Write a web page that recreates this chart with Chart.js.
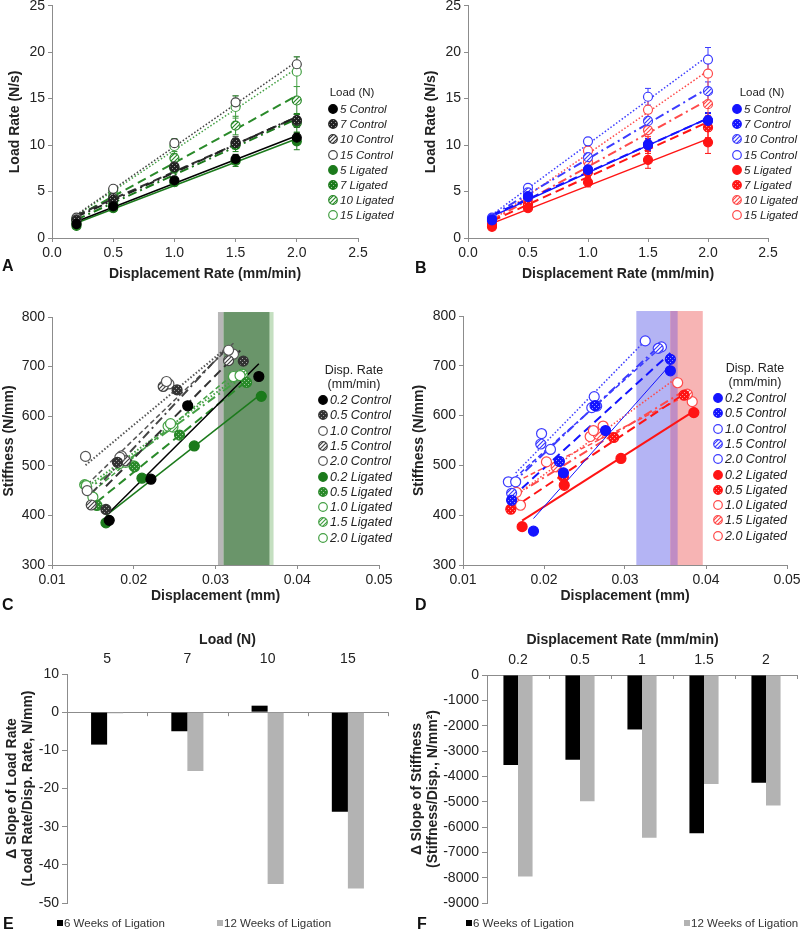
<!DOCTYPE html>
<html>
<head>
<meta charset="utf-8">
<script src="https://cdn.jsdelivr.net/npm/chart.js@4.4.1/dist/chart.umd.min.js"></script>
<style>
  body { margin: 0; background: #fff; font-family: 'Liberation Sans', Arial, sans-serif; }
  #wrap { position: relative; width: 800px; height: 932px; overflow: hidden; }
  #wrap canvas.panel { position: absolute; }
  .letter { position: absolute; font-weight: bold; font-size: 16px; line-height: 16px; color: #111; }
  .lgt { position: absolute; width: 120px; text-align: center; height: 18px; line-height: 18px; color: #222; }
  .lgr { position: absolute; height: 18px; line-height: 18px; display: flex; align-items: center; font-style: italic; color: #222; white-space: nowrap; }
  .lgr canvas { margin-right: 1px; }
  .blg { position: absolute; height: 16px; line-height: 16px; display: flex; align-items: center; font-size: 11.5px; color: #333; white-space: nowrap; }
  .blg i { display: inline-block; width: 6px; height: 6px; margin-right: 1px; }
</style>
</head>
<body>
<div id="wrap">
  <canvas class="panel" id="cA" width="400" height="300" style="left:0;top:0"></canvas>
  <canvas class="panel" id="cB" width="400" height="300" style="left:400px;top:0"></canvas>
  <canvas class="panel" id="cC" width="400" height="305" style="left:0;top:300px"></canvas>
  <canvas class="panel" id="cD" width="400" height="305" style="left:400px;top:300px"></canvas>
  <canvas class="panel" id="cE" width="400" height="327" style="left:0;top:605px"></canvas>
  <canvas class="panel" id="cF" width="400" height="327" style="left:400px;top:605px"></canvas>
  <div class="letter" style="left:2px;top:258px">A</div>
  <div class="letter" style="left:415px;top:260px">B</div>
  <div class="letter" style="left:2px;top:597px">C</div>
  <div class="letter" style="left:415px;top:597px">D</div>
  <div class="letter" style="left:3px;top:916px">E</div>
  <div class="letter" style="left:417px;top:916px">F</div>
</div>
<script>
// ---- data ----
const rates = [0.2, 0.5, 1.0, 1.5, 2.0];

// A: load rate (N/s), 6 weeks
const a5Control = [1.5, 3.4, 6.2, 8.5, 10.8];
const a7Control = [1.9, 4.1, 7.6, 10.2, 12.7];
const a10Control = [2.0, 4.3, 7.7, 10.3, 12.6];
const a15Control = [2.2, 5.3, 10.2, 14.6, 18.7];
const a5Ligated = [1.3, 3.2, 6.0, 8.3, 10.4];
const a7Ligated = [1.6, 3.7, 7.5, 10.0, 12.4];
const a10Ligated = [1.9, 4.5, 8.6, 12.1, 14.8];
const a15Ligated = [2.1, 5.1, 9.9, 14.1, 17.9];
const aErr5Control = [0.1, 0.2, 0.3, 0.5, 0.5];
const aErr7Control = [0.1, 0.2, 0.4, 0.5, 0.6];
const aErr10Control = [0.1, 0.3, 0.4, 0.6, 0.7];
const aErr15Control = [0.2, 0.3, 0.4, 0.7, 0.8];
const aErr5Ligated = [0.2, 0.3, 0.4, 0.6, 0.9];
const aErr7Ligated = [0.2, 0.3, 0.5, 0.7, 1.0];
const aErr10Ligated = [0.2, 0.4, 0.7, 1.0, 1.5];
const aErr15Ligated = [0.3, 0.4, 0.8, 1.2, 1.6];

// B: load rate (N/s), 12 weeks
const b5Control = [1.9, 4.4, 7.3, 10.0, 12.7];
const b7Control = [2.0, 4.5, 7.4, 10.1, 12.6];
const b10Control = [2.1, 4.9, 8.7, 12.6, 15.8];
const b15Control = [2.2, 5.4, 10.4, 15.2, 19.2];
const b5Ligated = [1.2, 3.2, 6.0, 8.4, 10.3];
const b7Ligated = [1.4, 3.6, 7.1, 10.0, 11.9];
const b10Ligated = [1.6, 4.0, 8.2, 11.6, 14.4];
const b15Ligated = [1.8, 4.4, 9.4, 13.8, 17.7];
const bErr5Control = [0.1, 0.2, 0.4, 0.6, 0.8];
const bErr7Control = [0.1, 0.2, 0.4, 0.6, 0.8];
const bErr10Control = [0.2, 0.3, 0.5, 0.8, 1.0];
const bErr15Control = [0.2, 0.3, 0.4, 0.9, 1.3];
const bErr5Ligated = [0.2, 0.3, 0.5, 0.9, 1.2];
const bErr7Ligated = [0.2, 0.3, 0.5, 0.9, 1.1];
const bErr10Ligated = [0.2, 0.3, 0.6, 1.0, 1.2];
const bErr15Ligated = [0.2, 0.4, 0.6, 1.0, 1.6];

// C: [displacement (mm), stiffness (N/mm)], 6 weeks
const c02Control = [[0.0170, 390], [0.0221, 473], [0.0266, 621], [0.0353, 680]];
const c05Control = [[0.0166, 412], [0.0180, 507], [0.0253, 653], [0.0334, 711]];
const c10Control = [[0.0141, 519], [0.0183, 517], [0.0240, 670], [0.0316, 733]];
const c15Control = [[0.0148, 421], [0.0190, 510], [0.0236, 660], [0.0316, 712]];
const c20Control = [[0.0143, 450], [0.0185, 520], [0.0243, 665], [0.0322, 725]];
const c02Ligated = [[0.0166, 385], [0.0210, 475], [0.0274, 540], [0.0356, 640]];
const c05Ligated = [[0.0155, 420], [0.0201, 498], [0.0256, 562], [0.0338, 668]];
const c10Ligated = [[0.0142, 460], [0.0190, 507], [0.0245, 585], [0.0330, 682]];
const c15Ligated = [[0.0140, 462], [0.0200, 500], [0.0248, 578], [0.0333, 685]];
const c20Ligated = [[0.0150, 437], [0.0183, 505], [0.0242, 580], [0.0322, 680]];
const cControlBand = [0.0303, 0.0366];
const cLigatedBand = [0.0310, 0.0371];

// D: [displacement (mm), stiffness (N/mm)], 12 weeks
const d02Control = [[0.0187, 368], [0.0224, 485], [0.0276, 570], [0.0356, 690]];
const d05Control = [[0.0160, 430], [0.0219, 508], [0.0263, 620], [0.0356, 713]];
const d10Control = [[0.0165, 467], [0.0197, 564], [0.0262, 638], [0.0325, 750]];
const d15Control = [[0.0160, 444], [0.0196, 543], [0.0265, 619], [0.0341, 735]];
const d20Control = [[0.0156, 467], [0.0208, 532], [0.0259, 616], [0.0345, 738]];
const d02Ligated = [[0.0173, 377], [0.0225, 460], [0.0295, 514], [0.0385, 606]];
const d05Ligated = [[0.0159, 412], [0.0224, 477], [0.0286, 556], [0.0373, 641]];
const d10Ligated = [[0.0171, 420], [0.0203, 507], [0.0261, 570], [0.0365, 666]];
const d15Ligated = [[0.0164, 425], [0.0215, 497], [0.0267, 562], [0.0377, 643]];
const d20Ligated = [[0.0166, 446], [0.0257, 558], [0.0273, 579], [0.0383, 628]];
const dControlBand = [0.0314, 0.0365];
const dLigatedBand = [0.0356, 0.0396];

// E, F: change in slope
const loadLabels = ['5', '7', '10', '15'];
const e6Weeks = [-8.5, -5.0, 1.7, -26.1];
const e12Weeks = [-0.3, -15.4, -45.0, -46.2];
const rateLabels = ['0.2', '0.5', '1', '1.5', '2'];
const f6Weeks = [-3550, -3350, -2150, -6250, -4250];
const f12Weeks = [-7950, -4980, -6420, -4300, -5150];

// ---- styling helpers ----
const AXIS = '#8c8c8c';
const TXT = '#222';
const FONT = "'Liberation Sans', Arial, sans-serif";
Chart.defaults.font.family = FONT;
Chart.defaults.color = TXT;

const SOLID = [], LONG = [9, 5], DASHDOT = [9, 4, 2, 4], DOT = [1.5, 2], SHORT = [5, 3];
const GREEN = '#1b7a1b', GREEN2 = '#2a8a2a', GREEN3 = '#44a044';
const BLUE = '#1414ff', BLUE2 = '#3c3cff';
const RED = '#ff1414', RED2 = '#ff4a4a';

function makePattern(color, kind) {
  const c = document.createElement('canvas');
  c.width = 4; c.height = 4;
  const g = c.getContext('2d');
  if (kind === 'dots') {
    g.fillStyle = color; g.fillRect(0, 0, 4, 4);
    g.fillStyle = 'rgba(255,255,255,0.55)';
    g.fillRect(0, 0, 1, 1); g.fillRect(2, 2, 1, 1);
  } else {
    g.fillStyle = '#fff'; g.fillRect(0, 0, 4, 4);
    g.strokeStyle = color; g.lineWidth = 1.2;
    g.beginPath();
    g.moveTo(0, 4); g.lineTo(4, 0);
    g.moveTo(-1, 1); g.lineTo(1, -1);
    g.moveTo(3, 5); g.lineTo(5, 3);
    g.stroke();
  }
  return g.createPattern(c, 'repeat');
}
function markerFill(color, fill) {
  if (fill === 'solid') return color;
  if (fill === 'open') return '#fff';
  return makePattern(color, fill);
}

// least-squares trend line over the range of the points
function trend(pts) {
  const n = pts.length;
  const mx = pts.reduce((s, p) => s + p[0], 0) / n;
  const my = pts.reduce((s, p) => s + p[1], 0) / n;
  let sxy = 0, sxx = 0;
  pts.forEach(p => { sxy += (p[0] - mx) * (p[1] - my); sxx += (p[0] - mx) ** 2; });
  const b = sxy / sxx, a = my - b * mx;
  const x0 = Math.min(...pts.map(p => p[0])), x1 = Math.max(...pts.map(p => p[0]));
  return [{ x: x0, y: a + b * x0 }, { x: x1, y: a + b * x1 }];
}

function seriesSets(s) {
  return [{
    data: trend(s.pts), showLine: true, borderColor: s.line || s.color, borderWidth: s.w,
    borderDash: s.dash, pointRadius: 0, fill: false, order: 2
  }, {
    data: s.pts.map(p => ({ x: p[0], y: p[1] })), showLine: false, pointRadius: s.r,
    pointBackgroundColor: markerFill(s.color, s.fill), pointBorderColor: s.color,
    pointBorderWidth: 1.2, errs: s.err, order: 1
  }];
}

const errorBars = {
  id: 'errorBars',
  beforeDatasetsDraw(chart) {
    const y = chart.scales.y, ctx = chart.ctx;
    chart.data.datasets.forEach((ds, i) => {
      if (!ds.errs) return;
      const meta = chart.getDatasetMeta(i);
      ctx.save();
      ctx.strokeStyle = ds.pointBorderColor;
      ctx.lineWidth = 1;
      meta.data.forEach((pt, j) => {
        const v = ds.data[j].y, e = ds.errs[j];
        const y0 = y.getPixelForValue(v - e), y1 = y.getPixelForValue(v + e);
        ctx.beginPath();
        ctx.moveTo(pt.x, y0); ctx.lineTo(pt.x, y1);
        ctx.moveTo(pt.x - 3, y0); ctx.lineTo(pt.x + 3, y0);
        ctx.moveTo(pt.x - 3, y1); ctx.lineTo(pt.x + 3, y1);
        ctx.stroke();
      });
      ctx.restore();
    });
  }
};

function bandsPlugin(s1, s2, colors, topValue) {
  return {
    id: 'bands',
    beforeDatasetsDraw(chart) {
      const { x, y } = chart.scales, ctx = chart.ctx;
      const top = y.getPixelForValue(topValue), bot = chart.chartArea.bottom;
      const rect = (a, b, col) => {
        const l = x.getPixelForValue(a), r = x.getPixelForValue(b);
        ctx.fillStyle = col; ctx.fillRect(l, top, r - l, bot - top);
      };
      ctx.save();
      rect(s1[0], s1[1], colors[0]);
      rect(s2[0], s2[1], colors[1]);
      const lo = Math.max(s1[0], s2[0]), hi = Math.min(s1[1], s2[1]);
      if (hi > lo) rect(lo, hi, colors[2]);
      ctx.restore();
    }
  };
}

function axis(pos, o, fit) {
  return {
    type: 'linear', position: pos, min: o.min, max: o.max,
    border: { display: true, color: AXIS, width: 1 },
    grid: { display: true, drawOnChartArea: false, drawTicks: true, tickLength: 4, color: AXIS },
    ticks: { stepSize: o.step, callback: o.fmt, font: { size: 14 }, color: TXT, padding: 3, autoSkip: false, maxRotation: 0 },
    title: { display: true, text: o.title, font: { size: 14, weight: 'bold' }, color: TXT, padding: o.pad },
    afterFit: fit
  };
}

function scatterChart(id, area, xo, yo, series, extra) {
  const cv = document.getElementById(id);
  const W = cv.width, H = cv.height;
  const sets = [];
  series.forEach(s => sets.push(...seriesSets(s)));
  return new Chart(cv, {
    type: 'scatter',
    data: { datasets: sets },
    options: {
      responsive: false, animation: false,
      layout: { padding: { left: 0, top: area.t, right: W - area.r, bottom: 0 } },
      plugins: { legend: { display: false }, tooltip: { enabled: false } },
      scales: {
        x: axis('bottom', xo, s => { s.height = H - area.b; s.paddingLeft = 0; s.paddingRight = 0; }),
        y: axis('left', yo, s => { s.width = area.l; s.paddingTop = 0; s.paddingBottom = 0; })
      }
    },
    plugins: extra
  });
}

function drawMarker(c, color, fill) {
  const g = c.getContext('2d');
  g.beginPath(); g.arc(6, 6, 4.3, 0, Math.PI * 2);
  g.fillStyle = markerFill(color, fill); g.fill();
  g.lineWidth = 1.2; g.strokeStyle = color; g.stroke();
}

function buildLegend(titles, series, mx, y0, step, size) {
  const wrap = document.getElementById('wrap');
  titles.forEach(t => {
    const d = document.createElement('div');
    d.className = 'lgt'; d.textContent = t.text;
    d.style.cssText = `left:${t.x - 60}px;top:${t.y - 9}px;font-size:${size}px`;
    wrap.appendChild(d);
  });
  series.forEach((s, i) => {
    const row = document.createElement('div');
    row.className = 'lgr';
    row.style.cssText = `left:${mx - 6}px;top:${y0 + i * step - 9}px;font-size:${size}px`;
    const c = document.createElement('canvas'); c.width = 12; c.height = 12;
    drawMarker(c, s.color, s.fill);
    const t = document.createElement('span'); t.textContent = s.label;
    row.append(c, t);
    wrap.appendChild(row);
  });
}

// ---- panels A, B ----
const pts = ys => rates.map((r, i) => [r, ys[i]]);
const aSeries = [
  { label: '5 Control', pts: pts(a5Control), err: aErr5Control, color: '#000', fill: 'solid', dash: SOLID, w: 1.5 },
  { label: '7 Control', pts: pts(a7Control), err: aErr7Control, color: '#222', fill: 'dots', dash: DASHDOT, w: 2 },
  { label: '10 Control', pts: pts(a10Control), err: aErr10Control, color: '#333', fill: 'hatch', dash: LONG, w: 2 },
  { label: '15 Control', pts: pts(a15Control), err: aErr15Control, color: '#444', fill: 'open', dash: DOT, w: 1.5 },
  { label: '5 Ligated', pts: pts(a5Ligated), err: aErr5Ligated, color: GREEN, fill: 'solid', dash: SOLID, w: 1.5 },
  { label: '7 Ligated', pts: pts(a7Ligated), err: aErr7Ligated, color: GREEN, fill: 'dots', dash: DASHDOT, w: 2 },
  { label: '10 Ligated', pts: pts(a10Ligated), err: aErr10Ligated, color: GREEN2, fill: 'hatch', dash: LONG, w: 2 },
  { label: '15 Ligated', pts: pts(a15Ligated), err: aErr15Ligated, color: GREEN3, fill: 'open', dash: DOT, w: 1.5 }
].map(s => Object.assign(s, { r: 4.5 }));

const bSeries = [
  { label: '5 Control', pts: pts(b5Control), err: bErr5Control, color: BLUE, fill: 'solid', dash: SOLID, w: 1.5 },
  { label: '7 Control', pts: pts(b7Control), err: bErr7Control, color: BLUE, fill: 'dots', dash: LONG, w: 2 },
  { label: '10 Control', pts: pts(b10Control), err: bErr10Control, color: BLUE2, fill: 'hatch', dash: DASHDOT, w: 2 },
  { label: '15 Control', pts: pts(b15Control), err: bErr15Control, color: BLUE2, fill: 'open', dash: DOT, w: 1.5 },
  { label: '5 Ligated', pts: pts(b5Ligated), err: bErr5Ligated, color: RED, fill: 'solid', dash: SOLID, w: 1.5 },
  { label: '7 Ligated', pts: pts(b7Ligated), err: bErr7Ligated, color: RED, fill: 'dots', dash: LONG, w: 2 },
  { label: '10 Ligated', pts: pts(b10Ligated), err: bErr10Ligated, color: RED2, fill: 'hatch', dash: DASHDOT, w: 2 },
  { label: '15 Ligated', pts: pts(b15Ligated), err: bErr15Ligated, color: RED2, fill: 'open', dash: DOT, w: 1.5 }
].map(s => Object.assign(s, { r: 4.5 }));

const rateX = { min: 0, max: 2.5, step: 0.5, fmt: v => v.toFixed(1), title: 'Displacement Rate (mm/min)', pad: { top: 0, bottom: 17 } };
scatterChart('cA', { l: 52, t: 5, r: 358, b: 238 }, rateX,
  { min: 0, max: 25, step: 5, fmt: v => String(v), title: 'Load Rate (N/s)', pad: { top: 7, bottom: 0 } },
  aSeries, [errorBars]);
scatterChart('cB', { l: 68, t: 5, r: 368, b: 238 }, rateX,
  { min: 0, max: 25, step: 5, fmt: v => String(v), title: 'Load Rate (N/s)', pad: { top: 23, bottom: 0 } },
  bSeries, [errorBars]);

// ---- panels C, D ----
const cSeries = [
  { label: '0.2 Control', pts: c02Control, color: '#000', fill: 'solid', dash: SOLID, w: 1.5 },
  { label: '0.5 Control', pts: c05Control, color: '#333', fill: 'dots', dash: LONG, w: 2 },
  { label: '1.0 Control', pts: c10Control, color: '#555', fill: 'open', dash: DOT, w: 2 },
  { label: '1.5 Control', pts: c15Control, color: '#444', fill: 'hatch', dash: DASHDOT, w: 2 },
  { label: '2.0 Control', pts: c20Control, color: '#555', fill: 'open', dash: SHORT, w: 1.5 },
  { label: '0.2 Ligated', pts: c02Ligated, color: GREEN, fill: 'solid', dash: SOLID, w: 1.5 },
  { label: '0.5 Ligated', pts: c05Ligated, color: GREEN2, fill: 'dots', dash: LONG, w: 2 },
  { label: '1.0 Ligated', pts: c10Ligated, color: GREEN3, fill: 'open', dash: DOT, w: 2 },
  { label: '1.5 Ligated', pts: c15Ligated, color: GREEN3, fill: 'hatch', dash: DASHDOT, w: 2 },
  { label: '2.0 Ligated', pts: c20Ligated, color: GREEN3, fill: 'open', dash: SHORT, w: 1.5 }
].map(s => Object.assign(s, { r: 5 }));

const dSeries = [
  { label: '0.2 Control', pts: d02Control, color: BLUE, fill: 'solid', dash: SOLID, w: 1 },
  { label: '0.5 Control', pts: d05Control, color: BLUE, fill: 'dots', dash: LONG, w: 2 },
  { label: '1.0 Control', pts: d10Control, color: BLUE2, fill: 'open', dash: DOT, w: 1.5 },
  { label: '1.5 Control', pts: d15Control, color: BLUE2, fill: 'hatch', dash: DASHDOT, w: 2 },
  { label: '2.0 Control', pts: d20Control, color: BLUE2, fill: 'open', dash: SHORT, w: 1.5 },
  { label: '0.2 Ligated', pts: d02Ligated, color: RED, fill: 'solid', dash: SOLID, w: 2 },
  { label: '0.5 Ligated', pts: d05Ligated, color: RED, fill: 'dots', dash: LONG, w: 2 },
  { label: '1.0 Ligated', pts: d10Ligated, color: RED2, fill: 'open', dash: DOT, w: 1.5 },
  { label: '1.5 Ligated', pts: d15Ligated, color: RED2, fill: 'hatch', dash: DASHDOT, w: 2 },
  { label: '2.0 Ligated', pts: d20Ligated, color: RED2, fill: 'open', dash: SHORT, w: 1.5 }
].map(s => Object.assign(s, { r: 5 }));

const dispX = { min: 0.01, max: 0.05, step: 0.01, fmt: v => v.toFixed(2), title: 'Displacement (mm)', pad: { top: 0, bottom: 0 } };
scatterChart('cC', { l: 52, t: 17, r: 379, b: 265 }, dispX,
  { min: 300, max: 800, step: 100, fmt: v => String(v), title: 'Stiffness (N/mm)', pad: { top: 1, bottom: 0 } },
  cSeries, [bandsPlugin(cControlBand, cLigatedBand, ['#b7b7b7', '#c4dfc0', '#6a956a'], 810)]);
scatterChart('cD', { l: 63, t: 16, r: 387, b: 265 }, dispX,
  { min: 300, max: 800, step: 100, fmt: v => String(v), title: 'Stiffness (N/mm)', pad: { top: 11, bottom: 0 } },
  dSeries, [bandsPlugin(dControlBand, dLigatedBand, ['#b4b4f4', '#f7b4b4', '#c08cc4'], 810)]);

// ---- panels E, F ----
const catTicks = {
  id: 'catTicks',
  afterDatasetsDraw(chart) {
    const x = chart.scales.x, y0 = chart.scales.y.getPixelForValue(0), ctx = chart.ctx;
    ctx.save(); ctx.strokeStyle = AXIS; ctx.lineWidth = 1;
    for (let i = 1; i <= chart.data.labels.length; i++) {
      const px = Math.round(x.getPixelForValue(i - 0.5)) + 0.5;
      ctx.beginPath(); ctx.moveTo(px, y0); ctx.lineTo(px, y0 + 4); ctx.stroke();
    }
    ctx.restore();
  }
};

function barChart(id, area, labels, six, twelve, yo, xTitle, catPct) {
  const cv = document.getElementById(id);
  const W = cv.width, H = cv.height;
  return new Chart(cv, {
    type: 'bar',
    data: {
      labels,
      datasets: [
        { label: '6 Weeks of Ligation', data: six, backgroundColor: '#000', barPercentage: 1, categoryPercentage: catPct },
        { label: '12 Weeks of Ligation', data: twelve, backgroundColor: '#b3b3b3', barPercentage: 1, categoryPercentage: catPct }
      ]
    },
    options: {
      responsive: false, animation: false,
      layout: { padding: { left: 0, top: 0, right: W - area.r, bottom: H - area.b } },
      plugins: { legend: { display: false }, tooltip: { enabled: false } },
      scales: {
        x: {
          position: 'top',
          border: { display: false },
          grid: { display: false },
          ticks: { font: { size: 14 }, color: TXT, padding: -2 },
          title: { display: true, text: xTitle, font: { size: 14, weight: 'bold' }, color: TXT, padding: { top: 27, bottom: 0 } },
          afterFit: s => { s.height = area.t; s.paddingLeft = 0; s.paddingRight = 0; }
        },
        y: {
          min: yo.min, max: yo.max,
          border: { display: true, color: AXIS },
          grid: {
            drawOnChartArea: true, drawTicks: true, tickLength: 5, tickColor: AXIS,
            color: c => (c.tick && c.tick.value === 0 ? AXIS : 'rgba(0,0,0,0)')
          },
          ticks: { stepSize: yo.step, callback: v => String(v), font: { size: 14 }, color: TXT, padding: 3 },
          title: { display: true, text: yo.title, font: { size: 14, weight: 'bold', lineHeight: 1.15 }, color: TXT, padding: { top: yo.pad, bottom: 0 } },
          afterFit: s => { s.width = area.l; s.paddingTop = 0; s.paddingBottom = 0; }
        }
      }
    },
    plugins: [catTicks]
  });
}

barChart('cE', { l: 67, t: 69, r: 388, b: 298 }, loadLabels, e6Weeks, e12Weeks,
  { min: -50, max: 10, step: 10, title: ['\u0394 Slope of Load Rate', '(Load Rate/Disp. Rate, N/mm)'], pad: 4 },
  'Load (N)', 0.4);
barChart('cF', { l: 87, t: 70, r: 397, b: 298 }, rateLabels, f6Weeks, f12Weeks,
  { min: -9000, max: 0, step: 1000, title: ['\u0394 Slope of Stiffness', '(Stiffness/Disp., N/mm\u00b2)'], pad: 9 },
  'Displacement Rate (mm/min)' + '\u00a0'.repeat(10), 0.47);

// ---- legends ----
buildLegend([{ text: 'Load (N)', x: 352, y: 92 }], aSeries, 333, 109, 15.2, 11.5);
buildLegend([{ text: 'Load (N)', x: 762, y: 92 }], bSeries, 737, 109, 15.2, 11.5);
buildLegend([{ text: 'Disp. Rate', x: 354, y: 370 }, { text: '(mm/min)', x: 354, y: 384 }], cSeries, 323, 400, 15.3, 12.5);
buildLegend([{ text: 'Disp. Rate', x: 755, y: 368 }, { text: '(mm/min)', x: 755, y: 382 }], dSeries, 718, 398, 15.3, 12.5);

function barLegend(x1, x2, y) {
  const wrap = document.getElementById('wrap');
  [[x1, '#000', '6 Weeks of Ligation'], [x2, '#b3b3b3', '12 Weeks of Ligation']].forEach(([x, col, txt]) => {
    const d = document.createElement('div');
    d.className = 'blg';
    d.style.cssText = `left:${x}px;top:${y - 8}px`;
    d.innerHTML = `<i style="background:${col}"></i><span>${txt}</span>`;
    wrap.appendChild(d);
  });
}
barLegend(57, 217, 923);
barLegend(466, 684, 923);
</script>
</body>
</html>
